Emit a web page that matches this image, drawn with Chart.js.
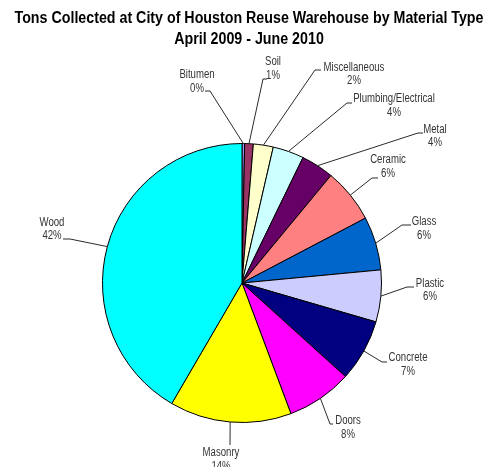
<!DOCTYPE html>
<html>
<head>
<meta charset="utf-8">
<title>Tons Collected at City of Houston Reuse Warehouse</title>
<script src="https://cdn.jsdelivr.net/npm/chart.js@4.4.1/dist/chart.umd.min.js"></script>
<style>
    html, body { margin: 0; padding: 0; background: #fff; }
    canvas { display: block; }
</style>
</head>
<body>
<canvas id="chart" width="488" height="467"></canvas>
<script>
const TITLE_LINES = [
    'Tons Collected at City of Houston Reuse Warehouse by Material Type',
    'April 2009 - June 2010',
];

// slices, clockwise from 12 o'clock
const MATERIALS = [
    'Bitumen', 'Soil', 'Miscellaneous', 'Plumbing/Electrical', 'Metal', 'Ceramic',
    'Glass', 'Plastic', 'Concrete', 'Doors', 'Masonry', 'Wood',
];
const SHARE = [0.3, 1.0, 2.3, 3.6, 3.8, 6.3, 6.2, 6.0, 7.2, 7.6, 14.1, 41.6];
const COLORS = [
    '#9999FF', '#993366', '#FFFFCC', '#CCFFFF', '#660066', '#FF8080',
    '#0066CC', '#CCCCFF', '#000080', '#FF00FF', '#FFFF00', '#00FFFF',
];

// no Arial Narrow here, so the regular face gets squeezed sideways
const FONT_FAMILY = "'Liberation Sans', Arial, sans-serif";
const TITLE_SQUEEZE = 0.89;
const LABEL_SQUEEZE = 0.8;

// label placement relative to the pie centre: text block centre, leader elbow, end of the short tick
const LABEL_LAYOUT = [
    { text: [-45, -201.5], elbow: [-32, -192], end: -37 },
    { text: [31, -214.5], elbow: [21, -204], end: 25 },
    { text: [112, -209], elbow: [73, -213], end: 79 },
    { text: [152, -177.5], elbow: [105, -180], end: 110 },
    { text: [193, -147], elbow: [176, -150], end: 181 },
    { text: [146, -116.5], elbow: [130, -105], end: 136 },
    { text: [182, -54.5], elbow: [160, -58], end: 169 },
    { text: [188, 7], elbow: [165, 4], end: 172 },
    { text: [166, 81.5], elbow: [140, 79], end: 145 },
    { text: [106, 144.5], elbow: [88, 141], end: 91 },
    { text: [-21, 176.5], elbow: [-12, 162], end: -12 },
    { text: [-190, -54], elbow: [-172, -44], end: -179 },
];

function squeezedText(ctx, text, x, y, squeeze) {
    ctx.save();
    ctx.translate(x, y);
    ctx.scale(squeeze, 1);
    ctx.fillText(text, 0, 0);
    ctx.restore();
}

const narrowTitle = {
    id: 'narrowTitle',
    afterDraw(chart) {
        const { ctx } = chart;
        const cx = chart.width / 2 + 5;

        ctx.save();
        ctx.fillStyle = '#000';
        ctx.font = `bold 16px ${FONT_FAMILY}`;
        ctx.textAlign = 'center';
        ctx.textBaseline = 'alphabetic';
        squeezedText(ctx, TITLE_LINES[0], cx, 23, TITLE_SQUEEZE);
        squeezedText(ctx, TITLE_LINES[1], cx, 43.5, TITLE_SQUEEZE);
        ctx.restore();
    },
};

const leaderLabels = {
    id: 'leaderLabels',
    afterDatasetsDraw(chart) {
        const { ctx } = chart;
        const meta = chart.getDatasetMeta(0);
        const total = SHARE.reduce((sum, v) => sum + v, 0);

        ctx.save();
        ctx.strokeStyle = '#2b2b2b';
        ctx.lineWidth = 1;
        ctx.fillStyle = '#333';
        ctx.font = `12px ${FONT_FAMILY}`;
        ctx.textAlign = 'center';
        ctx.textBaseline = 'middle';

        meta.data.forEach((arc, i) => {
            const { x, y, startAngle, endAngle, outerRadius } = arc.getProps(
                ['x', 'y', 'startAngle', 'endAngle', 'outerRadius'], true,
            );
            const mid = (startAngle + endAngle) / 2;
            const spot = LABEL_LAYOUT[i];

            ctx.beginPath();
            ctx.moveTo(x + Math.cos(mid) * outerRadius, y + Math.sin(mid) * outerRadius);
            ctx.lineTo(x + spot.elbow[0], y + spot.elbow[1]);
            ctx.lineTo(x + spot.end, y + spot.elbow[1]);
            ctx.stroke();

            const pct = Math.round((SHARE[i] / total) * 100) + '%';
            squeezedText(ctx, MATERIALS[i], x + spot.text[0], y + spot.text[1] - 6.75, LABEL_SQUEEZE);
            squeezedText(ctx, pct, x + spot.text[0], y + spot.text[1] + 6.75, LABEL_SQUEEZE);
        });

        ctx.restore();
    },
};

new Chart(document.getElementById('chart'), {
    type: 'pie',
    data: {
        labels: MATERIALS,
        datasets: [{
            data: SHARE,
            backgroundColor: COLORS,
            borderColor: '#000',
            borderWidth: 1,
        }],
    },
    options: {
        responsive: false,
        animation: false,
        layout: {
            padding: { left: 100, right: 104, bottom: 44, top: 143 },
        },
        plugins: {
            legend: { display: false },
            tooltip: { enabled: false },
            title: { display: false },
        },
    },
    plugins: [leaderLabels, narrowTitle],
});
</script>
</body>
</html>
